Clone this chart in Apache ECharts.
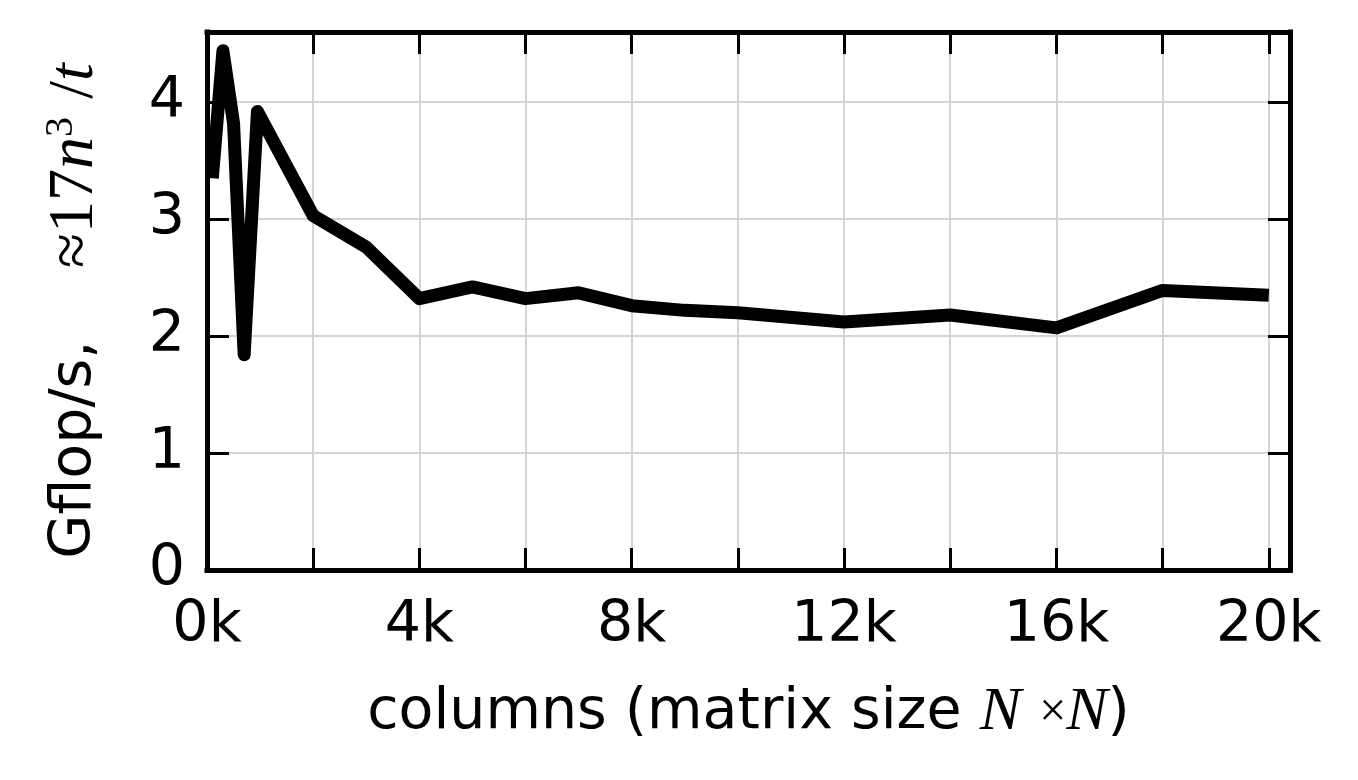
<!DOCTYPE html>
<html>
<head>
<meta charset="utf-8">
<script src="https://cdn.jsdelivr.net/npm/echarts@6/dist/echarts.min.js"></script>
<style>html,body{margin:0;padding:0;background:#fff}#c{width:1358px;height:780px}</style>
</head>
<body>
<div id="c"></div>
<script>
// columns (matrix size N)
const columns = [100, 300, 500, 700, 950, 2000, 3000, 4000, 5000, 6000, 7000, 8000, 9000, 10000, 12000, 14000, 16000, 18000, 20000];
// Gflop/s
const gflops = [3.35, 4.44, 3.82, 1.84, 3.92, 3.03, 2.76, 2.32, 2.42, 2.32, 2.37, 2.26, 2.22, 2.20, 2.12, 2.18, 2.07, 2.39, 2.35];
const xTickLabels = ['0k', '4k', '8k', '12k', '16k', '20k'];
const yTickLabels = ['0', '1', '2', '3', '4'];

const chart = echarts.init(document.getElementById('c'));
const FONT = 'DejaVu Sans';
const SERIF = 'Liberation Serif';
const tickStyle = {show: true, inside: true, length: 22, lineStyle: {color: '#000', width: 3}};
const frameLine = {show: true, onZero: false, lineStyle: {color: '#000', width: 5, cap: 'square'}};
const gridLine = {show: true, lineStyle: {color: '#d4d4d4', width: 2}};

chart.setOption({
  animation: false,
  backgroundColor: '#fff',
  grid: {left: 207, right: 68, top: 32, bottom: 210},
  xAxis: [{
    type: 'value', min: 0, max: 20400, interval: 2000,
    axisLine: frameLine,
    axisTick: tickStyle,
    splitLine: gridLine,
    axisLabel: {
      color: '#000', fontFamily: FONT, fontSize: 57, margin: 28,
      showMaxLabel: false,
      formatter: v => (v % 4000 === 0 ? xTickLabels[v / 4000] : '')
    },
    name: 'columns (matrix size {i|N} {m|×}{i|N})',
    nameLocation: 'middle', nameGap: 112,
    nameTextStyle: {
      color: '#000', fontFamily: FONT, fontSize: 57,
      rich: {
        i: {fontFamily: SERIF, fontStyle: 'italic', fontSize: 62, color: '#000'},
        m: {fontFamily: SERIF, fontSize: 48, color: '#000'}
      }
    }
  }, {
    type: 'value', min: 0, max: 20400, interval: 2000, position: 'top',
    axisLine: frameLine, axisTick: tickStyle, axisLabel: {show: false}, splitLine: {show: false}
  }],
  yAxis: [{
    type: 'value', min: 0, max: 4.6, interval: 1,
    axisLine: frameLine,
    axisTick: tickStyle,
    splitLine: gridLine,
    axisLabel: {
      color: '#000', fontFamily: FONT, fontSize: 57, margin: 22,
      showMaxLabel: false,
      formatter: v => (Number.isInteger(v) && v <= 4 ? yTickLabels[v] : '')
    },
    name: 'Gflop/s,    {m|≈17}{i|n}{s|3} {m|/}{i|t}',
    nameLocation: 'middle', nameRotate: 90, nameGap: 98,
    nameTextStyle: {
      color: '#000', fontFamily: FONT, fontSize: 57, padding: [0, 20, 0, 0],
      rich: {
        m: {fontFamily: SERIF, fontSize: 64, color: '#000'},
        i: {fontFamily: SERIF, fontStyle: 'italic', fontSize: 64, color: '#000'},
        s: {fontFamily: SERIF, fontSize: 40, color: '#000', verticalAlign: 'top', lineHeight: 68}
      }
    }
  }, {
    type: 'value', min: 0, max: 4.6, interval: 1, position: 'right',
    axisLine: frameLine, axisTick: tickStyle, axisLabel: {show: false}, splitLine: {show: false}
  }],
  series: [{
    type: 'line',
    data: columns.map((c, i) => [c, gflops[i]]),
    showSymbol: false,
    lineStyle: {color: '#000', width: 13, join: 'round', cap: 'butt'},
    z: 1
  }]
});
</script>
</body>
</html>
